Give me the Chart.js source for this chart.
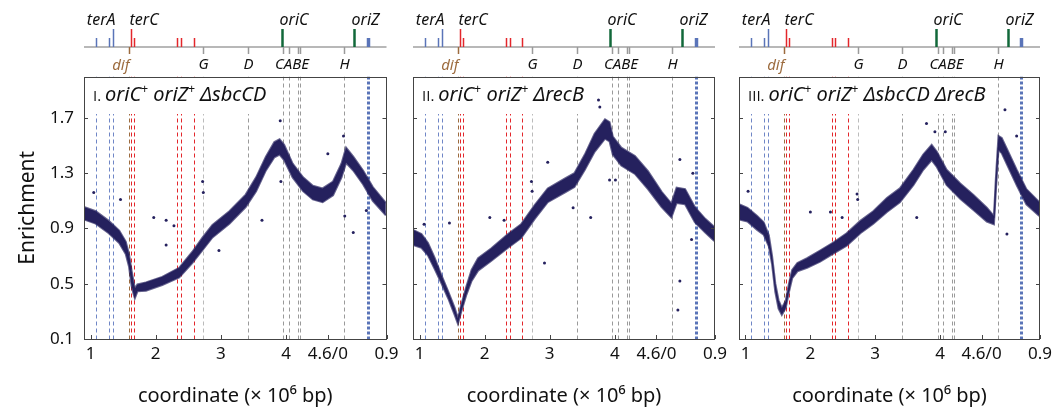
<!DOCTYPE html>
<html>
<head>
<meta charset="utf-8">
<script src="https://cdn.jsdelivr.net/npm/chart.js@4.4.1/dist/chart.umd.min.js"></script>
<style>
  html, body { margin: 0; padding: 0; background: #fff; }
  #wrap { position: relative; width: 1057px; height: 419px; }
  #wrap canvas { position: absolute; left: 0; top: 0; }
</style>
</head>
<body>
<div id="wrap">
  <canvas id="p1" width="1057" height="419"></canvas>
  <canvas id="p2" width="1057" height="419"></canvas>
  <canvas id="p3" width="1057" height="419"></canvas>
</div>
<script>
// axis runs from 0.9 Mb round the whole chromosome back to 0.9 Mb
var GENOME = 4.64;
var X0 = 0.9;

var xTickPos = [1, 2, 3, 4, 4.64, 5.54];
var xTickLabels = ['1', '2', '3', '4', '4.6/0', '0.9'];
var yTicks = [0.1, 0.5, 0.9, 1.3, 1.7];

// genome features, Mb
var terBlueNames = ['terE', 'terD', 'terA'];
var terBluePos = [1.08, 1.285, 1.34];
var terRedNames = ['terC', 'terB', 'terF', 'terG', 'terJ'];
var terRedPos = [1.618, 1.674, 2.326, 2.387, 2.582];
var terPairPos = [0.61];
var difPos = 1.588;
var rrnNames = ['G', 'D', 'C', 'A', 'B', 'E', 'H'];
var rrnPos = [2.73, 3.42, 3.96, 4.05, 4.19, 4.22, 0.245];
var oriNames = ['oriC', 'oriZ'];
var oriPos = [3.93, 0.40];

// I. oriC+ oriZ+ sbcCD : band centre and half-width, plus stray points
var sbcPos = [0.90, 1.08, 1.28, 1.44, 1.54, 1.59, 1.63, 1.66, 1.68, 1.72, 1.85, 2.10, 2.36, 2.56, 2.72, 2.87, 3.13, 3.38, 3.54, 3.69, 3.82, 3.90, 3.97, 4.10, 4.26, 4.41, 4.56, 0.08, 0.21, 0.28, 0.39, 0.54, 0.69, 0.89];
var sbcMid = [1.01, 0.98, 0.91, 0.84, 0.76, 0.67, 0.54, 0.47, 0.43, 0.47, 0.48, 0.52, 0.58, 0.69, 0.79, 0.88, 0.98, 1.10, 1.22, 1.37, 1.47, 1.49, 1.45, 1.32, 1.22, 1.16, 1.14, 1.19, 1.32, 1.43, 1.37, 1.27, 1.15, 1.04];
var sbcHalf = [0.045, 0.045, 0.045, 0.045, 0.045, 0.045, 0.055, 0.045, 0.035, 0.025, 0.03, 0.03, 0.035, 0.04, 0.045, 0.045, 0.045, 0.045, 0.05, 0.05, 0.055, 0.055, 0.055, 0.05, 0.05, 0.05, 0.05, 0.05, 0.05, 0.055, 0.05, 0.05, 0.05, 0.045];
var sbcOutX = [1.05, 1.46, 1.97, 2.16, 2.28, 2.16, 2.72, 2.73, 2.97, 3.63, 3.91, 3.92, 0.00, 0.24, 0.26, 0.39, 0.59];
var sbcOutY = [1.16, 1.11, 0.98, 0.96, 0.92, 0.78, 1.24, 1.16, 0.74, 0.96, 1.68, 1.24, 1.44, 1.57, 0.99, 0.87, 1.03];

// II. oriC+ oriZ+ recB
var recPos = [0.90, 1.03, 1.13, 1.23, 1.33, 1.44, 1.54, 1.59, 1.64, 1.72, 1.80, 1.90, 2.10, 2.36, 2.56, 2.77, 2.97, 3.23, 3.38, 3.54, 3.69, 3.85, 3.92, 3.97, 4.10, 4.31, 4.51, 0.08, 0.23, 0.31, 0.44, 0.59, 0.75, 0.89];
var recMid = [0.835, 0.81, 0.75, 0.65, 0.54, 0.42, 0.30, 0.23, 0.32, 0.45, 0.56, 0.64, 0.71, 0.81, 0.88, 1.02, 1.14, 1.21, 1.25, 1.38, 1.52, 1.62, 1.60, 1.50, 1.42, 1.36, 1.25, 1.11, 1.03, 1.14, 1.13, 1.00, 0.92, 0.86];
var recHalf = [0.055, 0.05, 0.045, 0.04, 0.03, 0.025, 0.025, 0.02, 0.025, 0.03, 0.04, 0.045, 0.045, 0.05, 0.05, 0.05, 0.05, 0.05, 0.05, 0.055, 0.065, 0.07, 0.07, 0.065, 0.065, 0.065, 0.065, 0.055, 0.05, 0.055, 0.055, 0.055, 0.05, 0.05];
var recOutX = [1.07, 1.46, 2.08, 2.30, 2.72, 2.73, 2.92, 2.97, 3.36, 3.63, 3.75, 3.77, 3.92, 4.01, 0.36, 0.36, 0.33, 0.54, 0.56];
var recOutY = [0.93, 0.94, 0.98, 0.96, 1.24, 1.17, 0.65, 1.38, 1.05, 0.98, 1.83, 1.78, 1.25, 1.25, 1.40, 0.52, 0.31, 0.82, 1.30];

// III. oriC+ oriZ+ sbcCD recB
var dblPos = [0.90, 1.03, 1.18, 1.28, 1.36, 1.41, 1.46, 1.51, 1.56, 1.62, 1.67, 1.72, 1.80, 1.95, 2.15, 2.36, 2.56, 2.77, 2.97, 3.18, 3.38, 3.59, 3.74, 3.87, 3.95, 4.10, 4.31, 4.51, 0.08, 0.19, 0.22, 0.26, 0.31, 0.39, 0.54, 0.69, 0.89];
var dblMid = [1.02, 1.00, 0.94, 0.90, 0.81, 0.67, 0.47, 0.35, 0.30, 0.35, 0.47, 0.57, 0.62, 0.65, 0.70, 0.76, 0.82, 0.91, 0.98, 1.07, 1.14, 1.27, 1.38, 1.45, 1.40, 1.27, 1.17, 1.09, 1.00, 0.96, 1.22, 1.52, 1.50, 1.42, 1.27, 1.13, 1.04];
var dblHalf = [0.055, 0.05, 0.05, 0.045, 0.04, 0.03, 0.03, 0.03, 0.025, 0.025, 0.03, 0.03, 0.03, 0.035, 0.04, 0.04, 0.045, 0.045, 0.045, 0.05, 0.05, 0.055, 0.055, 0.055, 0.055, 0.055, 0.055, 0.055, 0.05, 0.03, 0.045, 0.05, 0.055, 0.055, 0.055, 0.055, 0.05];
var dblOutX = [1.04, 2.00, 2.31, 2.49, 2.72, 2.73, 3.64, 3.79, 3.92, 4.08, 4.18, 0.36, 0.39, 0.54];
var dblOutY = [1.17, 1.02, 1.02, 0.98, 1.15, 1.11, 0.98, 1.66, 1.60, 1.60, 1.25, 1.76, 0.86, 1.57];

var NAVY = '#25215e';
var NAVY_EDGE = 'rgba(37, 33, 94, 0.7)';
var BLUE = '#5a74b8';
var BLUE_DASH = '#6f86c6';
var RED = '#e3262b';
var GREEN = '#12683a';
var GRAY = '#9a9a9a';
var BROWN = '#9c6b3e';
var FONT = "'Noto Sans', sans-serif";

Chart.defaults.font.family = FONT;
Chart.defaults.color = '#111';

function unwrap(c) {
  return c < X0 - 0.005 ? c + GENOME : c;
}

function band(pos, mid, half, sign) {
  return pos.map(function(c, i) { return { x: unwrap(c), y: mid[i] + sign * half[i] }; });
}

function titleFont(p) {
  if (p.sup) return '12px ' + FONT;
  if (p.roman) return "15px 'Open Sans', sans-serif";
  return 'italic 20px ' + FONT;
}

function drawRich(ctx, parts, x, y, measureOnly) {
  parts.forEach(function(p) {
    ctx.font = titleFont(p);
    if (!measureOnly) ctx.fillText(p.t, x, p.sup ? y - 8 : y);
    x += ctx.measureText(p.t).width;
  });
  return x;
}

var featurePlugin = {
  id: 'features',
  beforeDatasetsDraw: function(chart, args, opts) {
    var ctx = chart.ctx, area = chart.chartArea, xs = chart.scales.x;
    ctx.save();
    ctx.beginPath();
    ctx.rect(area.left, area.top, area.width, area.height);
    ctx.clip();
    function vline(c, color, width, dash) {
      var px = Math.round(xs.getPixelForValue(unwrap(c))) + 0.5;
      ctx.strokeStyle = color;
      ctx.lineWidth = width;
      ctx.setLineDash(dash);
      ctx.beginPath();
      ctx.moveTo(px, area.top);
      ctx.lineTo(px, area.bottom);
      ctx.stroke();
    }
    terBluePos.forEach(function(c) { vline(c, BLUE_DASH, 1, [4, 3]); });
    vline(difPos, BROWN, 1, [4, 3]);
    terRedPos.forEach(function(c) { vline(c, RED, 1, [4, 3]); });
    rrnPos.forEach(function(c, i) { vline(c, i === 0 ? '#bbbbbb' : GRAY, 1, [4, 3]); });
    terPairPos.forEach(function(c) { vline(c, BLUE, 3, [3, 2]); });

    // white box behind the panel title
    ctx.setLineDash([]);
    var tx = area.left + 9;
    var right = drawRich(ctx, opts.title, tx, 0, true);
    ctx.fillStyle = '#fff';
    ctx.fillRect(area.left + 1, area.top + 1, right + 3 - area.left, 113 - area.top);
    ctx.restore();
  },
  afterDatasetsDraw: function(chart, args, opts) {
    var ctx = chart.ctx, area = chart.chartArea, xs = chart.scales.x, ys = chart.scales.y;
    ctx.save();
    // frame and inward ticks
    ctx.strokeStyle = '#444';
    ctx.lineWidth = 1;
    ctx.strokeRect(Math.round(area.left) + 0.5, Math.round(area.top) + 0.5,
      Math.round(area.width) - 1, Math.round(area.height) - 1);
    ctx.beginPath();
    yTicks.forEach(function(v) {
      var py = Math.round(ys.getPixelForValue(v)) + 0.5;
      ctx.moveTo(area.left, py); ctx.lineTo(area.left + 4, py);
      ctx.moveTo(area.right, py); ctx.lineTo(area.right - 4, py);
    });
    xTickPos.forEach(function(v) {
      var px = Math.round(xs.getPixelForValue(v)) + 0.5;
      ctx.moveTo(px, area.bottom); ctx.lineTo(px, area.bottom - 4);
    });
    ctx.stroke();

    // panel title
    ctx.fillStyle = '#111';
    ctx.textBaseline = 'alphabetic';
    ctx.textAlign = 'left';
    drawRich(ctx, opts.title, area.left + 9, 101, false);

    // genome map strip above the panel
    var yb = 47;
    function gx(c) { return Math.round(xs.getPixelForValue(unwrap(c))) + 0.5; }
    function mark(c, color, w, y1) {
      ctx.strokeStyle = color;
      ctx.lineWidth = w;
      ctx.beginPath();
      ctx.moveTo(gx(c), yb);
      ctx.lineTo(gx(c), y1);
      ctx.stroke();
    }
    ctx.strokeStyle = '#a0a0a0';
    ctx.lineWidth = 1.5;
    ctx.beginPath();
    ctx.moveTo(area.left, yb);
    ctx.lineTo(area.right, yb);
    ctx.stroke();
    terBluePos.forEach(function(c, i) { mark(c, BLUE, 1.5, terBlueNames[i] === 'terA' ? yb - 18 : yb - 9); });
    terRedPos.forEach(function(c, i) { mark(c, RED, 1.5, terRedNames[i] === 'terC' ? yb - 18 : yb - 9); });
    terPairPos.forEach(function(c) { mark(c, BLUE, 3.5, yb - 9); });
    oriPos.forEach(function(c) { mark(c, GREEN, 2.5, yb - 18); });
    rrnPos.forEach(function(c) { mark(c, GRAY, 1.5, yb + 7); });
    mark(difPos, BROWN, 1.5, yb + 7);

    ctx.font = 'italic 16px ' + FONT;
    ctx.fillStyle = '#111';
    ctx.textAlign = 'right';
    ctx.fillText('terA', gx(terBluePos[terBlueNames.indexOf('terA')]) + 2, 25);
    ctx.textAlign = 'left';
    ctx.fillText('terC', gx(terRedPos[terRedNames.indexOf('terC')]) - 2, 25);
    oriNames.forEach(function(n, i) { ctx.fillText(n, gx(oriPos[i]) - 3, 25); });

    ctx.font = 'italic 15px ' + FONT;
    ctx.textAlign = 'center';
    ['G', 'D', 'H'].forEach(function(n) { ctx.fillText(n, gx(rrnPos[rrnNames.indexOf(n)]), 69); });
    var cabe = (gx(rrnPos[rrnNames.indexOf('C')]) + gx(rrnPos[rrnNames.indexOf('E')])) / 2;
    ctx.fillText('CABE', cabe, 69);
    ctx.fillStyle = BROWN;
    ctx.textAlign = 'right';
    ctx.fillText('dif', gx(difPos), 70);
    ctx.restore();
  }
};

function makePanel(id, idx, left, right, d, title) {
  var showY = idx === 0;
  return new Chart(document.getElementById(id), {
    type: 'scatter',
    data: {
      datasets: [
        { data: band(d.pos, d.mid, d.half, -1), showLine: true, borderColor: NAVY_EDGE, borderWidth: 2,
          pointRadius: 0, fill: false },
        { data: band(d.pos, d.mid, d.half, 1), showLine: true, borderColor: NAVY_EDGE, borderWidth: 2,
          pointRadius: 0, backgroundColor: NAVY, fill: '-1' },
        { data: d.outX.map(function(c, i) { return { x: unwrap(c), y: d.outY[i] }; }),
          pointRadius: 1.5, pointBackgroundColor: NAVY, pointBorderWidth: 0 }
      ]
    },
    options: {
      responsive: false,
      animation: false,
      layout: { padding: { left: showY ? 0 : left, right: 1057 - right, top: 76.5, bottom: 0 } },
      plugins: {
        legend: { display: false },
        tooltip: { enabled: false },
        features: { title: title }
      },
      scales: {
        x: {
          type: 'linear',
          min: X0,
          max: X0 + GENOME,
          grid: { display: false, drawTicks: false },
          border: { display: false },
          afterBuildTicks: function(s) { s.ticks = xTickPos.map(function(v) { return { value: v }; }); },
          afterFit: function(s) { s.height = 80; },
          ticks: {
            autoSkip: false, maxRotation: 0, padding: 5,
            font: { size: 17 }, color: '#111',
            callback: function(v, i) { return xTickLabels[i]; }
          },
          title: { display: true, text: 'coordinate (× 10⁶ bp)', font: { size: 20 }, color: '#111',
            padding: { top: 0, bottom: 11 } }
        },
        y: {
          min: 0.1,
          max: 2.0,
          grid: { display: false, drawTicks: false },
          border: { display: false },
          afterBuildTicks: function(s) { s.ticks = yTicks.map(function(v) { return { value: v }; }); },
          afterFit: function(s) { s.width = showY ? left : 0; },
          ticks: {
            display: showY, padding: 10, font: { size: 17 }, color: '#111',
            callback: function(v) { return v.toFixed(1); }
          },
          title: { display: showY, text: 'Enrichment', font: { size: 21 }, color: '#111',
            padding: { top: 15, bottom: 0 } }
        }
      }
    },
    plugins: [featurePlugin]
  });
}

function titleParts(roman, mutations) {
  var parts = [{ t: roman + '. ', roman: true }, { t: 'oriC' }, { t: '+', sup: true },
    { t: ' oriZ' }, { t: '+', sup: true }];
  mutations.forEach(function(m) { parts.push({ t: ' Δ' + m }); });
  return parts;
}

makePanel('p1', 0, 84, 386.5,
  { pos: sbcPos, mid: sbcMid, half: sbcHalf, outX: sbcOutX, outY: sbcOutY },
  titleParts('I', ['sbcCD']));
makePanel('p2', 1, 413, 715,
  { pos: recPos, mid: recMid, half: recHalf, outX: recOutX, outY: recOutY },
  titleParts('II', ['recB']));
makePanel('p3', 2, 739, 1041,
  { pos: dblPos, mid: dblMid, half: dblHalf, outX: dblOutX, outY: dblOutY },
  titleParts('III', ['sbcCD', 'recB']));
</script>
</body>
</html>
